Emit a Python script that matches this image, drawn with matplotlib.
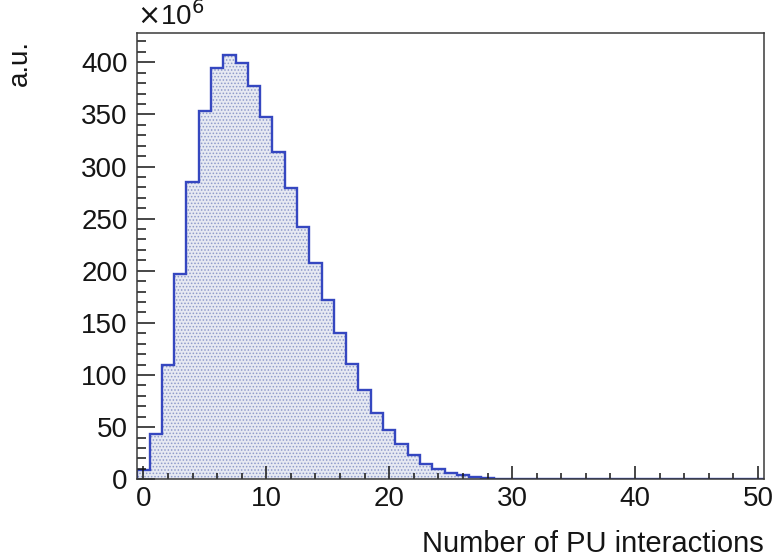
import numpy as np
import matplotlib
matplotlib.use('Agg')
import matplotlib.pyplot as plt
from matplotlib.ticker import MultipleLocator

plt.rcParams['font.family'] = ['Liberation Sans', 'DejaVu Sans']
plt.rcParams['hatch.linewidth'] = 0.7

# number of pile-up interactions, one bin per integer (values in units of 10^6)
n_pu = np.arange(0, 51)
counts = [9, 43, 110, 197, 285, 353, 394, 407, 399, 377,
          347, 314, 279, 242, 207, 172, 140, 111, 86, 64,
          47, 34, 23, 15, 9.6, 6.3, 3.8, 1.9, 0.8, 0.3,
          0.1, 0, 0, 0, 0, 0, 0, 0, 0, 0,
          0, 0, 0, 0, 0, 0, 0, 0, 0, 0, 0]
edges = np.append(n_pu - 0.5, n_pu[-1] + 0.5)

txt_col = '#151515'

fig = plt.figure(figsize=(7.73, 5.6), dpi=100)
ax = fig.add_axes([0.1776, 0.1441, 0.8108, 0.7969])

# dotted fill, then the blue outline on top
ax.stairs(counts, edges, fill=True, facecolor='#e6e9f2', edgecolor='#8e9aca',
          hatch='.....', linewidth=0)
ax.stairs(counts, edges, color='#3547c0', linewidth=1.7, baseline=0)

ax.set_xlim(-0.5, 50.5)
ax.set_ylim(0, 428)

ax.xaxis.set_major_locator(MultipleLocator(10))
ax.xaxis.set_minor_locator(MultipleLocator(2))
ax.yaxis.set_major_locator(MultipleLocator(50))
ax.yaxis.set_minor_locator(MultipleLocator(10))

ax.tick_params(axis='both', which='both', direction='in', top=False, right=False,
               labelsize=20, colors=txt_col, width=1.1)
ax.tick_params(axis='y', which='major', length=13, pad=7)
ax.tick_params(axis='y', which='minor', length=6.5)
ax.tick_params(axis='x', which='major', length=9.5, pad=5)
ax.tick_params(axis='x', which='minor', length=4.5)

for sp in ax.spines.values():
    sp.set_color('#3a3a3a')
    sp.set_linewidth(1.1)

ax.set_xlabel('Number of PU interactions', fontsize=21, color=txt_col)
ax.xaxis.set_label_coords(1.0, -0.113)
ax.xaxis.label.set_horizontalalignment('right')

ax.set_ylabel('a.u.', fontsize=20, color=txt_col)
ax.yaxis.set_label_coords(-0.187, 0.985)
ax.yaxis.label.set_verticalalignment('center')
ax.yaxis.label.set_horizontalalignment('right')

ax.text(0.0, 1.005, r'$\times$10$^{6}$', transform=ax.transAxes, fontsize=20,
        color=txt_col, ha='left', va='bottom')

fig.savefig('out.png', dpi=100)
